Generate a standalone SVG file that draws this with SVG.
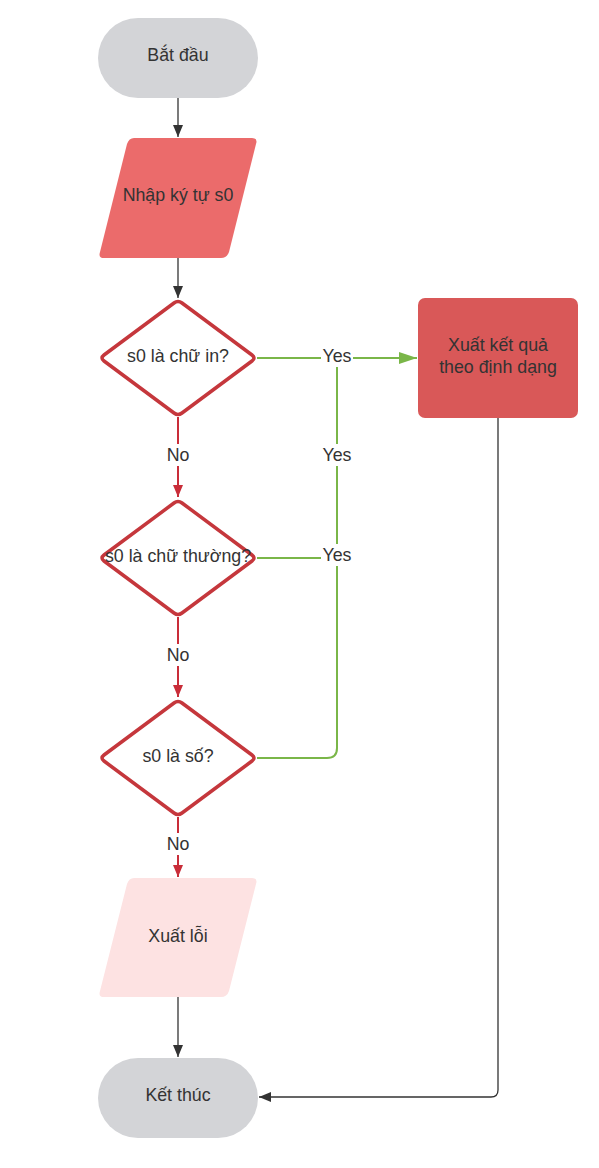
<svg xmlns="http://www.w3.org/2000/svg" width="599" height="1168" viewBox="0 0 599 1168">
<style>
text{font-family:"Liberation Sans",Arial,sans-serif;font-size:17.8px;fill:#333;text-anchor:middle;dominant-baseline:central}
.dia{fill:#fff;stroke:#c5373c;stroke-width:3.5;stroke-linejoin:round}
.blk{fill:none;stroke:#333;stroke-width:1.3}
.red{fill:none;stroke:#c92d39;stroke-width:2}
.grn{fill:none;stroke:#7ab648;stroke-width:2}
.lbl{fill:#fff}
</style>
<defs>
<marker id="ab" viewBox="0 0 12 12" refX="12" refY="6" markerWidth="12" markerHeight="12" markerUnits="userSpaceOnUse" orient="auto"><path d="M0,1 L12,6 L0,11 Z" fill="#333"/></marker>
<marker id="ar" viewBox="0 0 12 12" refX="12" refY="6" markerWidth="12" markerHeight="12" markerUnits="userSpaceOnUse" orient="auto"><path d="M0,1 L12,6 L0,11 Z" fill="#c92d39"/></marker>
<marker id="ag" viewBox="0 0 18 12" refX="18" refY="6" markerWidth="18" markerHeight="12" markerUnits="userSpaceOnUse" orient="auto"><path d="M0,0 L18,6 L0,12 Z" fill="#7ab648"/></marker>
</defs>
<g id="connectors">
<path class="blk" d="M178,98 V137" marker-end="url(#ab)"/>
<path class="blk" d="M178,258 V298" marker-end="url(#ab)"/>
<path class="red" d="M178,417 V497" marker-end="url(#ar)"/>
<path class="red" d="M178,617 V697" marker-end="url(#ar)"/>
<path class="red" d="M178,817 V877" marker-end="url(#ar)"/>
<path class="blk" d="M178,997 V1057" marker-end="url(#ab)"/>
<path class="grn" d="M257,358 H417" marker-end="url(#ag)"/>
<path class="grn" d="M257,558 H337"/>
<path class="grn" d="M257,758 H327 Q337,758 337,748 V358"/>
<path class="blk" d="M498,418 V1090 Q498,1097 491,1097 H259" marker-end="url(#ab)"/>
<rect class="lbl" x="321" y="345" width="32" height="22"/>
<text x="337" y="356">Yes</text>
<rect class="lbl" x="321" y="444" width="32" height="22"/>
<text x="337" y="455">Yes</text>
<rect class="lbl" x="321" y="544" width="32" height="22"/>
<text x="337" y="555">Yes</text>
<rect class="lbl" x="163" y="444" width="30" height="22"/>
<text x="178" y="455">No</text>
<rect class="lbl" x="163" y="644" width="30" height="22"/>
<text x="178" y="655">No</text>
<rect class="lbl" x="163" y="833" width="30" height="22"/>
<text x="178" y="844">No</text>
</g>
<g id="start">
<rect x="98" y="18" width="160" height="80" rx="40" fill="#d3d4d7"/>
<text x="178" y="55">Bắt đầu</text>
</g>
<g id="input">
<path d="M134,138 H252 Q258,138 256,144 L229,252 Q227,258 221,258 H104 Q98,258 100,252 L127,144 Q129,138 134,138 Z" fill="#eb6b6b"/>
<text x="178" y="195">Nhập ký tự s0</text>
</g>
<g id="d1">
<path class="dia" d="M174,303 Q178,300 182,303 L252,355 Q256,358 252,361 L182,413 Q178,416 174,413 L104,361 Q100,358 104,355 Z"/>
<text x="178" y="356">s0 là chữ in?</text>
</g>
<g id="d2">
<path class="dia" d="M174,503 Q178,500 182,503 L252,555 Q256,558 252,561 L182,613 Q178,616 174,613 L104,561 Q100,558 104,555 Z"/>
<text x="178" y="556">s0 là chữ thường?</text>
</g>
<g id="d3">
<path class="dia" d="M174,703 Q178,700 182,703 L252,755 Q256,758 252,761 L182,813 Q178,816 174,813 L104,761 Q100,758 104,755 Z"/>
<text x="178" y="756">s0 là số?</text>
</g>
<g id="output">
<rect x="418" y="298" width="160" height="120" rx="7" fill="#d95858"/>
<text x="498" y="345">Xuất kết quả</text>
<text x="498" y="367">theo định dạng</text>
</g>
<g id="error">
<path d="M134,878 H252 Q258,878 256,884 L229,991 Q227,997 221,997 H104 Q98,997 100,991 L127,884 Q129,878 134,878 Z" fill="#fde2e2"/>
<text x="178" y="936">Xuất lỗi</text>
</g>
<g id="end">
<rect x="98" y="1058" width="160" height="80" rx="40" fill="#d3d4d7"/>
<text x="178" y="1095">Kết thúc</text>
</g>
</svg>
